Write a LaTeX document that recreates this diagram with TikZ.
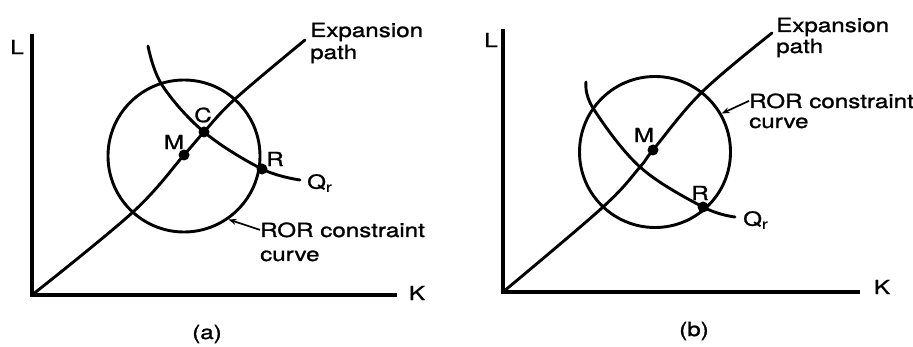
\documentclass[tikz,border=0pt]{standalone}
\usepackage{fontspec}
\usetikzlibrary{arrows.meta}
\setmainfont{TeX Gyre Heros}[FakeStretch=1.24,FakeBold=1.2]
\begin{document}
\begin{tikzpicture}[x=1pt,y=-1pt,
  crv/.style={line width=2.9pt,line cap=round},
  ax/.style={line width=3.1pt},
  lbl/.style={font=\fontsize{19.5}{22}\selectfont,inner sep=0pt},
  dotpt/.style={circle,fill=black,inner sep=0pt,minimum size=11pt},
  ring/.style={circle,draw,line width=2.9pt,inner sep=0pt},
  arr/.style={line width=1.7pt,-{Stealth[length=8pt,width=6pt]}}]
\useasboundingbox (0,0) rectangle (913,347);
% ---------- panel (a) ----------
\coordinate (Oa) at (32,295);
\coordinate (La) at (32,34);
\coordinate (Ka) at (397,295);
\draw[ax] (La) -- (Oa) -- (Ka);
\node[lbl] (labLa) at (17,47) {L};
\node[lbl] (labKa) at (417,293) {K};
\node[ring,minimum size=152pt] (circA) at (184,156) {};
\draw[crv] plot[smooth,tension=0.6] coordinates {(32,295) (133,212) (184,155) (204,132) (235,99) (305,40)};
\draw[crv] plot[smooth,tension=0.6] coordinates {(148,46) (162,85) (204,132) (262,169) (300,180)};
\node[dotpt] (Ma) at (184,155) {};
\node[dotpt] (Ca) at (204,132) {};
\node[dotpt] (Ra) at (262,169) {};
\node[lbl] (labMa) at (174,142) {M};
\node[lbl] (labCa) at (203,115) {C};
\node[lbl] (labRa) at (275,159) {R};
\node[lbl,anchor=west] (labQa) at (307,183) {Q$_{\mathrm{r}}$};
\node[lbl,anchor=base west] (expA1) at (310,37) {Expansion};
\node[lbl,anchor=base west] (expA2) at (310,59) {path};
\node[lbl,anchor=base west] (rorA1) at (260,237) {ROR constraint};
\node[lbl,anchor=base west] (rorA2) at (260,261) {curve};
\draw[arr] (rorA1.west) -- (circA.-55);
\node[lbl] (capA) at (207,334) {(a)};
% ---------- panel (b) ----------
\coordinate (Ob) at (503,292);
\coordinate (Lb) at (503,29);
\coordinate (Kb) at (860,292);
\draw[ax] (Lb) -- (Ob) -- (Kb);
\node[lbl] (labLb) at (491,40) {L};
\node[lbl] (labKb) at (882,287) {K};
\node[ring,minimum size=151pt] (circB) at (655,152) {};
\draw[crv] plot[smooth,tension=0.6] coordinates {(503,292) (603,207) (640,167) (653,150) (702,92) (772,33)};
\draw[crv] plot[smooth,tension=0.6] coordinates {(586,82) (593,108) (640,167) (703,207) (735,217)};
\node[dotpt] (Mb) at (653,150) {};
\node[dotpt] (Rb) at (703,207) {};
\node[lbl] (labMb) at (644,135) {M};
\node[lbl] (labRb) at (700,193) {R};
\node[lbl,anchor=west] (labQb) at (743,220) {Q$_{\mathrm{r}}$};
\node[lbl,anchor=base west] (expB1) at (776,32) {Expansion};
\node[lbl,anchor=base west] (expB2) at (776,53) {path};
\node[lbl,anchor=base west] (rorB1) at (749,108) {ROR constraint};
\node[lbl,anchor=base west] (rorB2) at (749,128) {curve};
\draw[arr] (rorB1.west) -- (circB.30);
\node[lbl] (capB) at (694,331) {(b)};
\end{tikzpicture}
\end{document}
